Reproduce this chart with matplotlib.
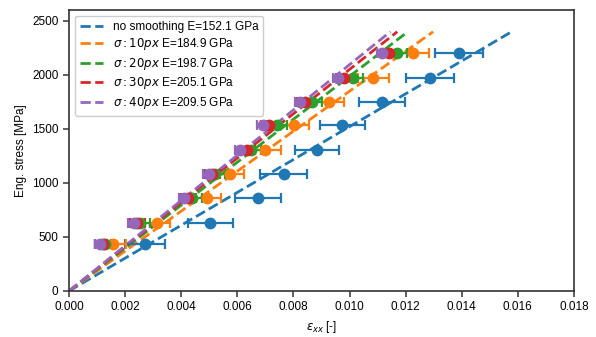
import matplotlib
matplotlib.use("Agg")
import matplotlib.pyplot as plt
import numpy as np

# Stress levels [MPa] and measured strains for each smoothing setting
stress = [432, 632, 863, 1082, 1304, 1535, 1745, 1967, 2200]

labels = [
    "no smoothing E=152.1 GPa",
    r"$\sigma: 10px$ E=184.9 GPa",
    r"$\sigma: 20px$ E=198.7 GPa",
    r"$\sigma: 30px$ E=205.1 GPa",
    r"$\sigma: 40px$ E=209.5 GPa",
]
moduli = [152.1, 184.9, 198.7, 205.1, 209.5]  # GPa

strain_none = [0.00271, 0.00504, 0.00673, 0.00765, 0.00884, 0.00974, 0.01117, 0.01286, 0.01389]
strain_10 = [0.00156, 0.00313, 0.00492, 0.00573, 0.00700, 0.00801, 0.00927, 0.01085, 0.01227]
strain_20 = [0.00129, 0.00254, 0.00438, 0.00521, 0.00649, 0.00742, 0.00866, 0.01012, 0.01168]
strain_30 = [0.00120, 0.00244, 0.00423, 0.00510, 0.00635, 0.00712, 0.00840, 0.00980, 0.01139]
strain_40 = [0.00111, 0.00232, 0.00411, 0.00498, 0.00611, 0.00691, 0.00825, 0.00960, 0.01117]

err_none = [0.00070, 0.00080, 0.00082, 0.00085, 0.00080, 0.00080, 0.00082, 0.00086, 0.00086]
err_10 = [0.00048, 0.00048, 0.00050, 0.00052, 0.00054, 0.00054, 0.00054, 0.00054, 0.00058]
err_20 = [0.00035, 0.00035, 0.00035, 0.00036, 0.00036, 0.00036, 0.00036, 0.00036, 0.00036]
err_30 = [0.00028, 0.00028, 0.00028, 0.00028, 0.00028, 0.00028, 0.00028, 0.00028, 0.00028]
err_40 = [0.00020, 0.00020, 0.00020, 0.00020, 0.00020, 0.00020, 0.00020, 0.00020, 0.00020]

strains = [strain_none, strain_10, strain_20, strain_30, strain_40]
errors = [err_none, err_10, err_20, err_30, err_40]
fit_max_stress = 2400  # MPa, end of fitted lines

plt.rcParams.update({
    "font.family": ["Liberation Sans", "DejaVu Sans"],
    "font.size": 8.5,
    "axes.edgecolor": "#333333",
    "axes.linewidth": 1.2,
    "xtick.color": "#333333",
    "ytick.color": "#333333",
    "xtick.labelcolor": "black",
    "ytick.labelcolor": "black",
})

fig = plt.figure(figsize=(5.96, 3.37), dpi=100)
ax = fig.add_axes([0.1158, 0.1365, 0.8472, 0.8335])

colors = plt.rcParams["axes.prop_cycle"].by_key()["color"]

for i in range(len(labels)):
    c = colors[i]
    E = moduli[i] * 1000.0  # MPa
    ax.plot([0, fit_max_stress / E], [0, fit_max_stress], "--", color=c, lw=2,
            label=labels[i], zorder=2)
for i in range(len(labels)):
    c = colors[i]
    ax.errorbar(strains[i], stress, xerr=errors[i], fmt="o", color=c,
                ms=7.5, elinewidth=1.6, capsize=3.5, capthick=1.6, zorder=3)

ax.set_xlim(0, 0.018)
ax.set_ylim(0, 2600)
ax.set_xticks(np.arange(0, 0.0181, 0.002))
ax.set_yticks(np.arange(0, 2501, 500))
ax.xaxis.set_major_formatter(matplotlib.ticker.FormatStrFormatter("%.3f"))
ax.tick_params(length=4, width=1.1)

ax.set_xlabel(r"$\varepsilon_{xx}$ [-]")
ax.set_ylabel("Eng. stress [MPa]")
ax.legend(loc="upper left", handlelength=2.0, fontsize=8.5, framealpha=1,
          edgecolor="#cccccc", labelspacing=0.3)

fig.savefig("out.png", dpi=100)
